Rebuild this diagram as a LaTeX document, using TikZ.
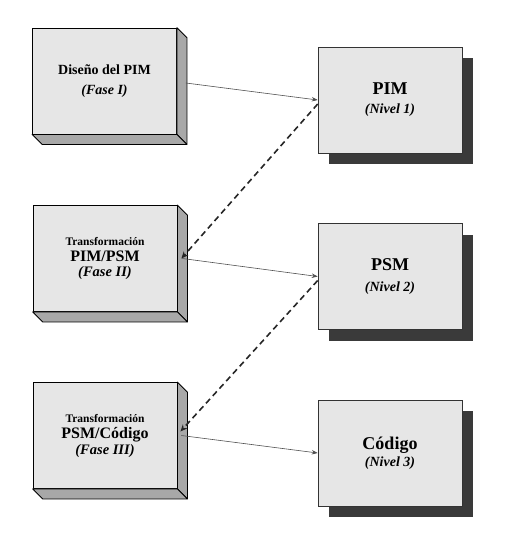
\documentclass[tikz,border=0pt]{standalone}
\usepackage{fontspec}
\setmainfont{Liberation Serif}
\usetikzlibrary{arrows.meta,calc,shadows}
\definecolor{facegray}{HTML}{E6E6E6}
\definecolor{sidegray}{HTML}{A8A8A8}
\definecolor{shadowgray}{HTML}{3A3A3A}
\definecolor{linegray}{HTML}{505050}
\newcommand\extrude[1]{%
  \path[sideface] (#1.north east) -- ++(10,10) -- ($(#1.south east)+(10,10)$) -- (#1.south east) -- cycle;
  \path[sideface] (#1.south west) -- (#1.south east) -- ++(10,10) -- ($(#1.south west)+(10,10)$) -- cycle;
}
\newcommand\fs[2]{\fontsize{#1pt}{#2pt}\selectfont}
\begin{document}
\begin{tikzpicture}[x=1pt,y=-1pt,
  phase/.style={draw=black, line width=0.8pt, fill=facegray, minimum width=144pt, minimum height=106pt, inner sep=0pt, align=center},
  level/.style={draw=black!80, line width=0.6pt, fill=facegray, minimum width=144pt, minimum height=106pt, inner sep=0pt, align=center,
    drop shadow={shadow xshift=11pt, shadow yshift=-11pt, fill=shadowgray, opacity=1, draw=none}},
  sideface/.style={draw=black, line width=0.8pt, fill=sidegray, line join=round},
  flow/.style={draw=linegray, line width=0.6pt, -{Stealth[length=6pt,width=4.5pt]}},
  back/.style={draw=black!85, line width=1.6pt, dash pattern=on 6pt off 4pt, -{Stealth[length=7pt,width=6pt]}}]
\useasboundingbox (0,0) rectangle (530,547);

% left column (phases)
\node[phase, font=\bfseries\fs{14}{20}] (d1) at (104.5,81) {Diseño del PIM\\{\itshape (Fase I)}};
\extrude{d1}
\node[phase, font=\bfseries\fs{14}{15.5}] (t1) at (105,258.5) {{\fs{11.5}{15}Transformación}\\{\fs{16}{15}PIM/PSM}\\{\fs{14.5}{15}\itshape (Fase II)}};
\extrude{t1}
\node[phase, font=\bfseries\fs{14}{16}] (t2) at (105,435.5) {{\fs{11.5}{16}Transformación}\\{\fs{16}{16}PSM/Código}\\{\fs{14.5}{16}\itshape (Fase III)}};
\extrude{t2}

% right column (levels)
\node[level, font=\bfseries\fs{14}{19}] (pim) at (390,100) {{\fs{18}{19}PIM}\\{\fs{14}{19}\itshape (Nivel 1)}};
\node[level, font=\bfseries\fs{14}{21}] (psm) at (390,276.5) {{\fs{18}{21}PSM}\\{\fs{14}{21}\itshape (Nivel 2)}};
\node[level, font=\bfseries\fs{14}{17}] (cod) at (390,453) {{\fs{18}{17}Código}\\{\fs{14}{17}\itshape (Nivel 3)}};

% connectors
\draw[flow] ([xshift=9pt,yshift=-2pt]d1.east) -- (pim.west);
\draw[back] ([yshift=-4pt]pim.west) -- ([xshift=4pt]t1.east);
\draw[flow] ([xshift=5pt]t1.east) -- (psm.west);
\draw[back] ([yshift=-4pt]psm.west) -- ([xshift=3pt,yshift=4pt]t2.east);
\draw[flow] ([xshift=4pt]t2.east) -- (cod.west);
\end{tikzpicture}
\end{document}
